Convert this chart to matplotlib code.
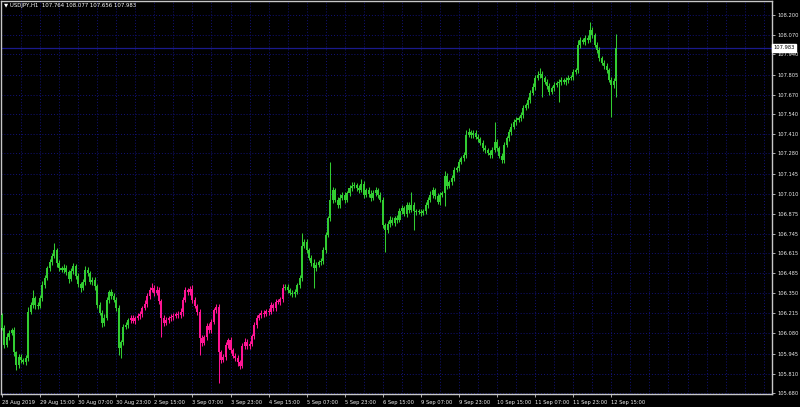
import matplotlib
matplotlib.use("Agg")
import matplotlib.pyplot as plt
import matplotlib.transforms as mtransforms
import numpy as np

# USDJPY H1, 28 Aug 2019 23:00 .. 12 Sep 2019 17:00
title = "USDJPY,H1  107.764 108.077 107.656 107.983"
first_open = 106.202
closes = [
    106.115, 106.002, 106.055, 106.082, 106.102, 105.955, 105.868, 105.922,
    105.902, 105.888, 105.915, 106.222, 106.269, 106.315, 106.269, 106.262,
    106.315, 106.402, 106.449, 106.515, 106.555, 106.595, 106.635, 106.549,
    106.515, 106.502, 106.515, 106.489, 106.442, 106.495, 106.529, 106.462,
    106.409, 106.382, 106.422, 106.502, 106.482, 106.422, 106.435, 106.395,
    106.269, 106.215, 106.149, 106.182, 106.302, 106.355, 106.329, 106.302,
    106.249, 105.982, 106.022, 106.122, 106.135, 106.169, 106.182, 106.162,
    106.182, 106.195, 106.209, 106.249, 106.275, 106.329, 106.369, 106.382,
    106.349, 106.369, 106.295, 106.182, 106.149, 106.169, 106.182, 106.189,
    106.195, 106.209, 106.202, 106.222, 106.302, 106.369, 106.355, 106.375,
    106.302, 106.262, 106.222, 106.049, 106.015, 106.055, 106.129, 106.102,
    106.155, 106.235, 106.255, 105.955, 105.902, 105.922, 106.002, 106.035,
    105.969, 105.929, 105.915, 105.888, 105.862, 105.995, 106.022, 105.995,
    106.009, 106.062, 106.135, 106.182, 106.202, 106.215, 106.209, 106.229,
    106.222, 106.269, 106.249, 106.289, 106.289, 106.309, 106.382, 106.389,
    106.369, 106.349, 106.342, 106.355, 106.402, 106.449, 106.662, 106.689,
    106.635, 106.582, 106.549, 106.515, 106.535, 106.555, 106.562, 106.635,
    106.736, 106.849, 106.969, 107.036, 106.969, 106.936, 106.982, 107.002,
    106.969, 107.016, 107.049, 107.062, 107.069, 107.049, 107.036, 107.076,
    107.002, 107.036, 107.009, 106.982, 107.016, 107.036, 107.002, 106.969,
    106.802, 106.769, 106.809, 106.836, 106.816, 106.849, 106.836, 106.896,
    106.916, 106.876, 106.936, 106.902, 106.936, 106.896, 106.889, 106.889,
    106.882, 106.896, 106.936, 106.969, 107.002, 107.036, 106.996, 106.956,
    107.002, 107.016, 107.129, 107.062, 107.089, 107.116, 107.169, 107.182,
    107.223, 107.249, 107.269, 107.403, 107.423, 107.403, 107.416, 107.389,
    107.376, 107.349, 107.316, 107.303, 107.283, 107.269, 107.303, 107.356,
    107.316, 107.263, 107.236, 107.336, 107.383, 107.423, 107.456, 107.489,
    107.503, 107.516, 107.536, 107.583, 107.603, 107.636, 107.683, 107.723,
    107.783, 107.803, 107.809, 107.783, 107.756, 107.729, 107.689, 107.716,
    107.736, 107.749, 107.756, 107.769, 107.756, 107.769, 107.783, 107.789,
    107.823, 107.836, 108.003, 108.036, 108.023, 108.050, 108.036, 108.103,
    108.070, 108.003, 107.970, 107.916, 107.883, 107.863, 107.836, 107.769,
    107.736, 107.764, 107.983,
]
upper_wick = [
    .015, .02, .025, .02, .015, .02, .01, .02,
    .02, .015, .02, .03, .02, .053, .015, .02,
    .02, .025, .02, .015, .02, .02, .047, .015,
    .02, .015, .025, .02, .015, .02, .02, .015,
    .02, .015, .02, .025, .02, .015, .02, .02,
    .015, .02, .02, .025, .02, .015, .02, .02,
    .02, .02, .015, .02, .02, .015, .02, .02,
    .015, .02, .02, .015, .025, .02, .02, .03,
    .02, .025, .02, .015, .02, .02, .015, .02,
    .02, .015, .02, .025, .02, .02, .015, .02,
    .025, .02, .015, .02, .02, .015, .02, .02,
    .02, .015, .02, .02, .015, .02, .02, .015,
    .02, .015, .02, .02, .015, .02, .025, .02,
    .02, .015, .02, .02, .015, .02, .02, .015,
    .02, .02, .015, .02, .02, .015, .025, .02,
    .02, .015, .02, .02, .015, .02, .09, .02,
    .02, .015, .02, .025, .02, .015, .02, .02,
    .02, .015, .253, .02, .015, .02, .025, .02,
    .02, .015, .02, .025, .02, .015, .02, .03,
    .02, .015, .02, .025, .02, .02, .015, .02,
    .02, .015, .02, .025, .02, .015, .02, .02,
    .02, .015, .02, .02, .087, .02, .015, .02,
    .02, .015, .02, .02, .025, .02, .015, .02,
    .02, .015, .03, .02, .015, .02, .02, .015,
    .02, .015, .02, .03, .025, .015, .02, .02,
    .02, .015, .02, .02, .015, .02, .02, .133,
    .02, .015, .02, .02, .015, .02, .025, .02,
    .02, .015, .02, .02, .015, .02, .02, .025,
    .02, .025, .04, .02, .015, .02, .02, .015,
    .02, .015, .02, .02, .015, .02, .02, .015,
    .02, .015, .03, .02, .015, .02, .02, .055,
    .02, .015, .02, .02, .015, .02, .02, .015,
    .02, .02, .094,
]
lower_wick = [
    .015, .02, .015, .02, .015, .025, .033, .02,
    .02, .015, .02, .02, .015, .02, .025, .02,
    .015, .02, .02, .015, .02, .02, .015, .025,
    .02, .015, .02, .02, .025, .015, .02, .02,
    .02, .025, .015, .02, .02, .015, .02, .025,
    .02, .015, .025, .02, .015, .02, .02, .015,
    .02, .047, .07, .02, .015, .02, .02, .015,
    .02, .015, .02, .02, .015, .02, .02, .015,
    .02, .015, .02, .127, .02, .015, .02, .02,
    .02, .015, .02, .02, .025, .015, .02, .02,
    .02, .015, .02, .113, .02, .015, .02, .02,
    .02, .015, .02, .207, .02, .015, .02, .02,
    .02, .015, .02, .025, .02, .015, .02, .02,
    .02, .015, .02, .02, .015, .02, .02, .015,
    .02, .015, .02, .02, .015, .02, .02, .015,
    .02, .015, .02, .02, .015, .02, .02, .015,
    .02, .015, .02, .133, .02, .015, .02, .02,
    .02, .015, .02, .02, .015, .02, .02, .015,
    .02, .015, .02, .02, .015, .02, .02, .015,
    .02, .015, .02, .02, .015, .02, .02, .015,
    .02, .147, .02, .02, .015, .02, .02, .015,
    .02, .015, .02, .02, .015, .127, .02, .015,
    .02, .015, .02, .02, .015, .02, .02, .015,
    .02, .015, .09, .02, .015, .02, .02, .015,
    .02, .015, .02, .02, .015, .02, .02, .015,
    .02, .015, .02, .02, .015, .02, .02, .015,
    .02, .015, .02, .02, .015, .02, .02, .015,
    .02, .015, .02, .02, .015, .02, .02, .015,
    .02, .015, .02, .127, .015, .02, .02, .015,
    .02, .015, .127, .02, .015, .02, .02, .015,
    .02, .015, .02, .02, .015, .02, .02, .015,
    .02, .015, .02, .02, .015, .02, .02, .015,
    .213, .02, .108,
]
pink_first, pink_last = 54, 118   # bars coloured pink by the indicator
last_price = 107.983
price_ticks = [108.200, 108.070, 107.940, 107.805, 107.670, 107.540, 107.410,
               107.280, 107.145, 107.010, 106.875, 106.745, 106.615, 106.485,
               106.350, 106.215, 106.080, 105.945, 105.810, 105.680]
time_labels = ["28 Aug 2019", "29 Aug 15:00", "30 Aug 07:00", "30 Aug 23:00",
               "2 Sep 15:00", "3 Sep 07:00", "3 Sep 23:00", "4 Sep 15:00",
               "5 Sep 07:00", "5 Sep 23:00", "6 Sep 15:00", "9 Sep 07:00",
               "9 Sep 23:00", "10 Sep 15:00", "11 Sep 07:00", "11 Sep 23:00",
               "12 Sep 15:00"]

closes = np.array(closes)
opens = np.r_[first_open, closes[:-1]]
idx = np.arange(len(closes))
highs = np.maximum(opens, closes) + np.array(upper_wick)
lows = np.minimum(opens, closes) - np.array(lower_wick)
colors = ["#ff1493" if pink_first <= i <= pink_last else "#32cd32" for i in idx]

fig = plt.figure(figsize=(8, 4.07), dpi=100, facecolor="black")
ax = fig.add_axes([1 / 800, 13 / 407, 771 / 800, 393 / 407], facecolor="black")
ax.set_xlim(-0.42, 323.5)
ax.set_ylim(105.675, 108.296)

# dotted grid
for p in price_ticks:
    ax.axhline(p, color="#121278", lw=0.7, ls=(0, (1, 2)), zorder=1)
for gx in range(8, 324, 8):
    ax.axvline(gx, color="#121278", lw=0.7, ls=(0, (1, 2)), zorder=1)

# candles
ax.vlines(idx, lows, highs, colors=colors, lw=0.75, zorder=3)
body_h = np.maximum(np.abs(closes - opens), 0.005)
ax.bar(idx, body_h, bottom=np.minimum(opens, closes), width=0.85,
       color=colors, linewidth=0, zorder=3)

# current price line + label
ax.axhline(last_price, color="#1a1a8c", lw=0.9, zorder=2)
trans = mtransforms.blended_transform_factory(ax.transAxes, ax.transData)
ax.text(1.0015, last_price, "%.3f" % last_price, transform=trans, ha="left",
        va="center", fontsize=3.7, color="black", clip_on=False,
        bbox=dict(boxstyle="square,pad=0.25", fc="white", ec="white"))

for s in ax.spines.values():
    s.set_color("#c8c8c8")
    s.set_linewidth(1)

ax.yaxis.tick_right()
ax.set_yticks(price_ticks)
ax.set_yticklabels(["%.3f" % p for p in price_ticks])
ax.tick_params(axis="y", direction="out", length=2, width=0.6, colors="#c8c8c8",
               labelcolor="#eeeeee", labelsize=3.7, pad=2)
ax.set_xticks(range(0, 16 * len(time_labels), 16))
ax.set_xticklabels(time_labels, ha="left")
ax.tick_params(axis="x", direction="out", length=2.5, width=0.6, colors="#c8c8c8",
               labelcolor="#eeeeee", labelsize=3.7, pad=1.5)

fig.text(4 / 800, 1 - 6 / 407, "\u25bc " + title, color="white", fontsize=3.9,
         va="center", ha="left")

fig.savefig("out.png", dpi=100, facecolor="black")
